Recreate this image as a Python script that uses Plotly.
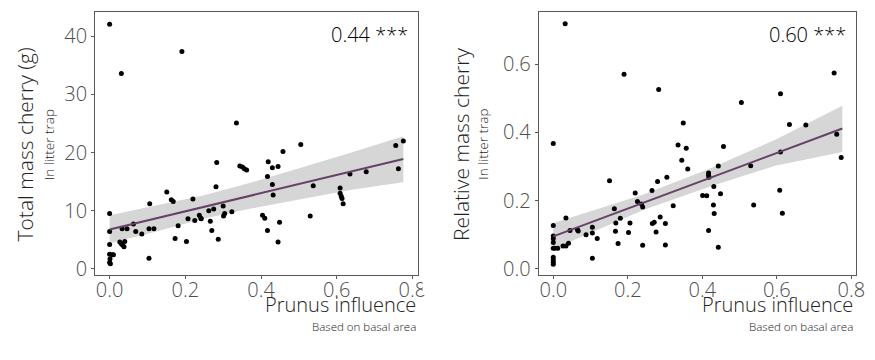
import plotly.graph_objects as go

# ---------------- data: left panel (total mass) ----------------
left_x = [0, 0.191, 0.031, 0.335, 0.505, 0.756, 0.776, 0.763, 0.458, 0.419, 0.430, 0.445,
          0.283, 0.344, 0.351, 0.356, 0.362, 0.678, 0.635, 0.417, 0.609, 0.609, 0.612,
          0.614, 0.617, 0.538, 0.430, 0.432, 0.281, 0.151, 0.163, 0.168, 0.220, 0.106,
          0, 0, 0, 0, 0.001, 0, 0.002, 0.007, 0.010, 0.033, 0.046, 0.027, 0.031, 0.034,
          0.038, 0.040, 0.063, 0.069, 0.085, 0.104, 0.117, 0.104, 0.173, 0.181, 0.203,
          0.207, 0.225, 0.237, 0.241, 0.242, 0.262, 0.266, 0.275, 0.270, 0.287, 0.300,
          0.301, 0.304, 0.323, 0.404, 0.410, 0.417, 0.449, 0.445, 0.530]
left_y = [42.1, 37.4, 33.6, 25.1, 21.4, 21.2, 22.0, 17.2, 20.2, 18.4, 17.4, 17.6,
          18.3, 17.7, 17.5, 17.2, 17.0, 16.7, 16.3, 15.9, 13.9, 13.0, 12.5,
          12.1, 11.2, 14.3, 14.5, 12.7, 14.1, 13.2, 11.9, 11.6, 12.0, 11.2,
          9.5, 6.4, 4.2, 2.5, 1.7, 1.1, 0.85, 2.4, 2.4, 6.9, 6.9, 4.6, 4.3, 4.1,
          3.8, 4.7, 7.7, 6.4, 6.0, 6.9, 6.9, 1.8, 5.2, 7.4, 4.7,
          8.6, 8.3, 9.2, 8.7, 8.6, 10.0, 8.2, 10.3, 6.6, 5.1, 10.8,
          9.1, 9.5, 9.8, 9.2, 8.7, 6.6, 8.0, 4.6, 9.1]

left_fit_x = [0.0, 0.116, 0.247, 0.377, 0.508, 0.639, 0.776]
left_fit_y = [6.76, 8.58, 10.64, 12.68, 14.7, 16.8, 18.9]
left_ci_lo = [4.4, 6.3, 8.6, 10.4, 12.0, 13.6, 14.9]
left_ci_hi = [9.2, 10.8, 12.6, 14.9, 17.4, 20.0, 22.8]

# ---------------- data: right panel (relative mass) ----------------
right_x = [0.032, 0, 0.190, 0.283, 0.754, 0.610, 0.505, 0.634, 0.678, 0.761, 0.773, 0.610,
           0.530, 0.349, 0.335, 0.357, 0.345, 0.361, 0.457, 0.443, 0.417, 0.417, 0.418,
           0.431, 0.449, 0.401, 0.412, 0.430, 0.432, 0.417, 0.443, 0.608, 0.615, 0.538,
           0.151, 0.265, 0.280, 0.305, 0.220, 0.226, 0.237, 0.240, 0.322, 0.164, 0.206,
           0.168, 0.180, 0.167, 0.174, 0.202, 0.266, 0.271, 0.276, 0.287, 0.301, 0.301,
           0.240, 0.105, 0.105, 0.118, 0.088, 0.065, 0.067, 0.105, 0.034, 0, 0, 0, 0, 0,
           0.004, 0.012, 0.026, 0.034, 0.041, 0.045, 0, 0, 0, 0]
right_y = [0.718, 0.367, 0.570, 0.525, 0.574, 0.513, 0.487, 0.423, 0.421, 0.394, 0.326, 0.342,
           0.302, 0.427, 0.363, 0.353, 0.318, 0.292, 0.358, 0.301, 0.281, 0.274, 0.268,
           0.241, 0.220, 0.215, 0.214, 0.187, 0.162, 0.112, 0.063, 0.230, 0.163, 0.187,
           0.258, 0.229, 0.256, 0.268, 0.222, 0.197, 0.190, 0.181, 0.185, 0.176, 0.134,
           0.134, 0.148, 0.110, 0.074, 0.106, 0.133, 0.136, 0.108, 0.152, 0.133, 0.070,
           0.069, 0.122, 0.105, 0.089, 0.100, 0.114, 0.111, 0.031, 0.149, 0.127, 0.096, 0.088, 0.077, 0.060,
           0.060, 0.060, 0.067, 0.067, 0.075, 0.112, 0.034, 0.026, 0.019, 0.013]

right_fit_x = [0.0, 0.242, 0.419, 0.596, 0.776]
right_fit_y = [0.095, 0.194, 0.266, 0.338, 0.411]
right_ci_lo = [0.058, 0.172, 0.240, 0.302, 0.342]
right_ci_hi = [0.134, 0.218, 0.293, 0.378, 0.478]

# ---------------- text ----------------
left_ytitle = "Total mass cherry (g)"
right_ytitle = "Relative mass cherry"
ysub = "In litter trap"
xtitle = "Prunus influence"
xsub = "Based on basal area"
left_stat = "0.44 ***"
right_stat = "0.60 ***"
x_ticks = [0.0, 0.2, 0.4, 0.6, 0.8]
left_yticks = [0, 10, 20, 30, 40]
right_yticks = [0.0, 0.2, 0.4, 0.6]

# page places the figure at (8, 8) in the window (body margin)
OX, OY = 8, 8
W, H = 875 - OX, 360 - OY
FONT = "Open Sans"
LINE_COL = "#654165"
BAND_COL = "#d6d6d6"
TICK_COL = "#4d4d4d"


def px(xp):
    return (xp - OX) / W


def py(yp):
    return 1 - (yp - OY) / H


fig = go.Figure()


def add_panel(xs, ys, fx, fy, lo, hi, xa, ya):
    fig.add_trace(go.Scatter(x=fx, y=lo, mode="lines", line=dict(width=0, color=BAND_COL),
                             xaxis=xa, yaxis=ya, showlegend=False, hoverinfo="skip"))
    fig.add_trace(go.Scatter(x=fx, y=hi, mode="lines", line=dict(width=0, color=BAND_COL),
                             fill="tonexty", fillcolor=BAND_COL,
                             xaxis=xa, yaxis=ya, showlegend=False, hoverinfo="skip"))
    fig.add_trace(go.Scatter(x=xs, y=ys, mode="markers",
                             marker=dict(size=5, color="black"),
                             xaxis=xa, yaxis=ya, showlegend=False))
    fig.add_trace(go.Scatter(x=fx, y=fy, mode="lines", line=dict(width=2, color=LINE_COL),
                             xaxis=xa, yaxis=ya, showlegend=False))


add_panel(left_x, left_y, left_fit_x, left_fit_y, left_ci_lo, left_ci_hi, "x", "y")
add_panel(right_x, right_y, right_fit_x, right_fit_y, right_ci_lo, right_ci_hi, "x2", "y2")

ydom = [py(280), py(12)]
axis_common = dict(showline=True, mirror=True, linecolor="#5a5a5a", linewidth=1,
                   showgrid=False, zeroline=False, ticks="outside", ticklen=3,
                   tickcolor="#5a5a5a",
                   tickfont=dict(family=FONT, size=20, color=TICK_COL, weight=300))
xaxis_extra = dict(ticklabelstandoff=-6)

fig.update_layout(
    width=W, height=H, margin=dict(l=0, r=0, t=0, b=0),
    paper_bgcolor="white", plot_bgcolor="white",
    xaxis=dict(domain=[px(96), px(422)], range=[-0.0384, 0.814], tickvals=x_ticks,
               tickformat=".1f", anchor="y", **axis_common, **xaxis_extra),
    yaxis=dict(domain=ydom, range=[-1.13, 44.2], tickvals=left_yticks, anchor="x", **axis_common),
    xaxis2=dict(domain=[px(544.3), px(865)], range=[-0.039, 0.813], tickvals=x_ticks,
                tickformat=".1f", anchor="y2", **axis_common, **xaxis_extra),
    yaxis2=dict(domain=ydom, range=[-0.0193, 0.7526], tickvals=right_yticks,
                tickformat=".1f", anchor="x2", **axis_common),
)


def px_ann(text, x, y, size, xanchor="center", yanchor="middle", angle=0, color="#222222"):
    fig.add_annotation(text=text, x=px(x), y=py(y), xref="paper", yref="paper",
                       xanchor=xanchor, yanchor=yanchor, textangle=angle, showarrow=False,
                       borderpad=0,
                       font=dict(family=FONT, size=size, color=color, weight=300))


# y titles
px_ann(left_ytitle, 25, 147, 21, angle=-90)
px_ann(ysub, 49, 147, 13.5, angle=-90)
px_ann(right_ytitle, 465, 147, 21, angle=-90)
px_ann(ysub, 488, 147, 13.5, angle=-90)
# x titles
px_ann(xtitle, 421, 310, 20, xanchor="right")
px_ann(xsub, 421, 332, 11.5, xanchor="right")
px_ann(xtitle, 863, 310, 20, xanchor="right")
px_ann(xsub, 863, 332, 11.5, xanchor="right")
# stats
px_ann(left_stat, 413, 35, 20, xanchor="right", color="black")
px_ann(right_stat, 856, 35, 20, xanchor="right", color="black")

# clip of the right-most tick label on the left panel (as in the reference)
fig.add_shape(type="rect", xref="paper", yref="paper", x0=px(427), x1=px(444),
              y0=py(300), y1=py(281), fillcolor="white", line=dict(width=0),
              layer="above")

fig.write_html("out.html")
